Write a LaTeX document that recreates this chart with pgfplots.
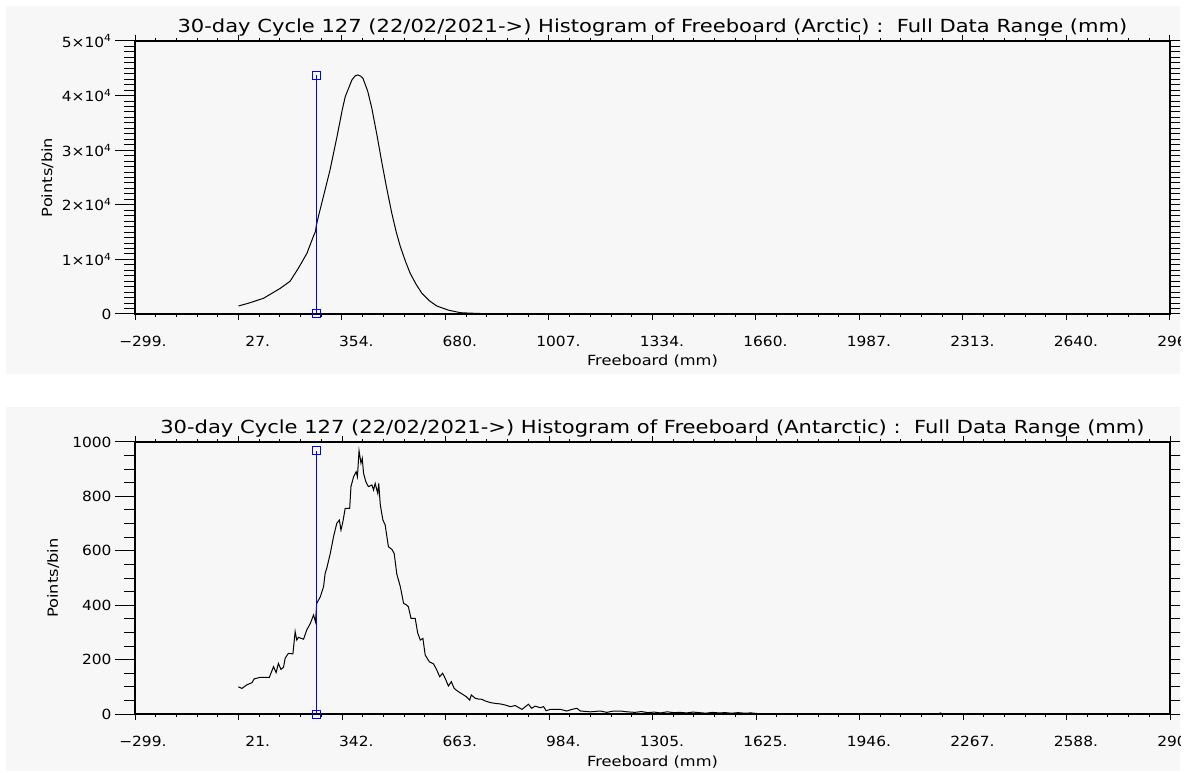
\documentclass[border=0pt]{standalone}
\usepackage{fontspec}
\setmainfont[FakeStretch=1.1]{DejaVu Sans}
\newfontfamily\titlefont[FakeStretch=1.17]{DejaVu Sans}
\newfontfamily\labelfont[FakeStretch=1.16]{DejaVu Sans}
\usepackage{pgfplots}
\pgfplotsset{compat=1.18}
\usetikzlibrary{calc}
\definecolor{bg}{HTML}{F7F7F7}
\definecolor{idlblue}{RGB}{0,0,255}

\pgfplotstableread{
x y
27 1465
60 2000
106 2875
159 4700
190 6000
216 8370
243 11100
264 14290
270 15100
273 16300
280 18000
295 21500
316 26370
338 32480
355 37500
364 39800
385 42860
395 43600
403 43780
412 43600
420 43160
435 40800
448 37670
465 32500
480 27600
495 23000
511 18440
525 15000
538 12330
555 9500
569 7450
588 5400
606 3790
630 2400
653 1465
690 700
727 240
760 150
790 100
}\arctic

\pgfplotstableread{
x y
21 100
32 94
47 107
63 115
70 129
89 135
117 135
130 174
138 152
145 186
153 164
161 172
166 205
176 223
190 221
197 303
202 272
207 282
223 275
233 309
244 333
254 364
260 339
264 407
275 431
285 468
290 517
295 536
306 591
316 652
326 701
334 713
339 676
345 707
352 756
366 756
370 836
378 872
386 891
390 872
395 968
401 922
405 940
409 885
416 854
424 836
435 842
440 823
445 848
453 811
456 848
461 768
469 713
476 695
486 615
497 605
504 590
512 515
523 468
533 407
542 401
548 394
556 352
569 352
577 297
585 272
593 278
600 217
613 192
626 184
636 162
645 137
654 150
662 131
672 103
681 119
690 94
703 82
714 74
727 64
738 51
743 70
755 58
765 55
776 54
786 48
802 42
817 39
833 37
848 33
864 27
879 31
900 17
920 36
930 21
941 29
957 23
967 27
975 12
988 17
1019 17
1039 11
1055 17
1070 21
1081 11
1112 8
1143 11
1163 6
1184 11
1205 11
1226 8
1250 6
1270 9
1290 5
1310 7
1330 4
1350 8
1370 5
1390 6
1410 4
1430 7
1450 5
1470 3
1490 6
1510 4
1530 5
1550 3
1570 5
1590 3
1610 4
1628 2
1640 0
2190 0
2197 4
2204 0
}\antarctic

\pgfplotsset{
  idlbase/.style={
    scale only axis, width=1035pt, anchor=south west,
    tick align=outside, scaled x ticks=false, scaled y ticks=false,
    axis line style={line width=1.3pt},
    every tick/.style={black, line width=1pt},
    tick label style={font=\fontsize{14}{16}\selectfont},
    label style={font=\labelfont\fontsize{14}{16}\selectfont},
  },
  idlx/.style={
    xticklabel style={anchor=north east, xshift=35pt, yshift=-12.5pt},
    minor x tick num=4, major tick length=6pt, minor tick length=3pt,
    ytick=\empty, clip=false,
    xlabel={Freeboard (mm)},
    xlabel style={at={(axis description cs:0.5,0)}, anchor=base, yshift=-52pt},
    title style={at={(axis description cs:0.5,1)}, anchor=base, yshift=3pt, font=\titlefont\fontsize{18}{20}\selectfont},
  },
  idlyl/.style={
    axis x line=none, axis y line*=left, xtick=\empty,
    major tick length=20pt, minor tick length=10.7pt,
    ylabel={Points/bin},
  },
  idlyr/.style={
    axis x line=none, axis y line*=right, xtick=\empty, yticklabels={},
    major tick length=11pt, minor tick length=11pt,
  },
}

\begin{document}
\begin{tikzpicture}[x=1pt,y=1pt]
\fill[bg] (6,398) rectangle (1180,766);
\fill[bg] (6,1) rectangle (1180,365);
\begin{scope}
\clip (0,0) rectangle (1180,772);

% ---------------- TOP (Arctic) ----------------
\begin{axis}[idlbase, idlx, at={(135pt,458pt)}, height=273pt,
  xmin=-299.4, xmax=2966.6, ymin=0, ymax=50000,
  xtick={-299.4,27.2,353.8,680.4,1007,1333.6,1660.2,1986.8,2313.4,2640,2966.6},
  xticklabels={−299.,27.,354.,680.,1007.,1334.,1660.,1987.,2313.,2640.,2967.},
  title={30-day Cycle 127 (22/02/2021->) Histogram of Freeboard (Arctic) :\ \ Full Data Range (mm)},
]
\addplot[black, line width=1pt] table[x=x,y=y]{\arctic};
\addplot[idlblue, line width=1pt, mark=square, mark size=4pt, mark options={solid}] coordinates {(272,0) (272,43700)};
\end{axis}
\begin{axis}[idlbase, idlyl, at={(135pt,458pt)}, height=273pt,
  xmin=-299.4, xmax=2966.6, ymin=0, ymax=50000,
  ytick={0,10000,20000,30000,40000,50000},
  yticklabels={0,1×10\textsuperscript{4},2×10\textsuperscript{4},3×10\textsuperscript{4},4×10\textsuperscript{4},5×10\textsuperscript{4}},
  minor y tick num=9,
  ylabel style={at={($(axis description cs:0,0.5)+(-83pt,0)$)}, anchor=base},
]
\end{axis}
\begin{axis}[idlbase, idlyr, at={(135pt,458pt)}, height=273pt,
  xmin=-299.4, xmax=2966.6, ymin=0, ymax=50000,
  ytick={0,10000,20000,30000,40000,50000}, minor y tick num=9,
]
\end{axis}

% ---------------- BOTTOM (Antarctic) ----------------
\begin{axis}[idlbase, idlx, at={(135pt,58pt)}, height=272pt,
  xmin=-299.4, xmax=2908.6, ymin=0, ymax=1000,
  xtick={-299.4,21.4,342.2,663,983.8,1304.6,1625.4,1946.2,2267,2587.8,2908.6},
  xticklabels={−299.,21.,342.,663.,984.,1305.,1625.,1946.,2267.,2588.,2909.},
  title={30-day Cycle 127 (22/02/2021->) Histogram of Freeboard (Antarctic) :\ \ Full Data Range (mm)},
]
\addplot[black, line width=1pt] table[x=x,y=y]{\antarctic};
\addplot[idlblue, line width=1pt, mark=square, mark size=4pt, mark options={solid}] coordinates {(262,0) (262,968)};
\end{axis}
\begin{axis}[idlbase, idlyl, at={(135pt,58pt)}, height=272pt,
  xmin=-299.4, xmax=2908.6, ymin=0, ymax=1000,
  ytick={0,200,400,600,800,1000}, yticklabels={0,200,400,600,800,1000},
  minor y tick num=3,
  ylabel style={at={($(axis description cs:0,0.5)+(-77pt,0)$)}, anchor=base},
]
\end{axis}
\begin{axis}[idlbase, idlyr, at={(135pt,58pt)}, height=272pt,
  xmin=-299.4, xmax=2908.6, ymin=0, ymax=1000,
  ytick={0,200,400,600,800,1000}, minor y tick num=3,
]
\end{axis}
\end{scope}

\pgfresetboundingbox
\useasboundingbox (0,0) rectangle (1187,772);
\end{tikzpicture}
\end{document}
